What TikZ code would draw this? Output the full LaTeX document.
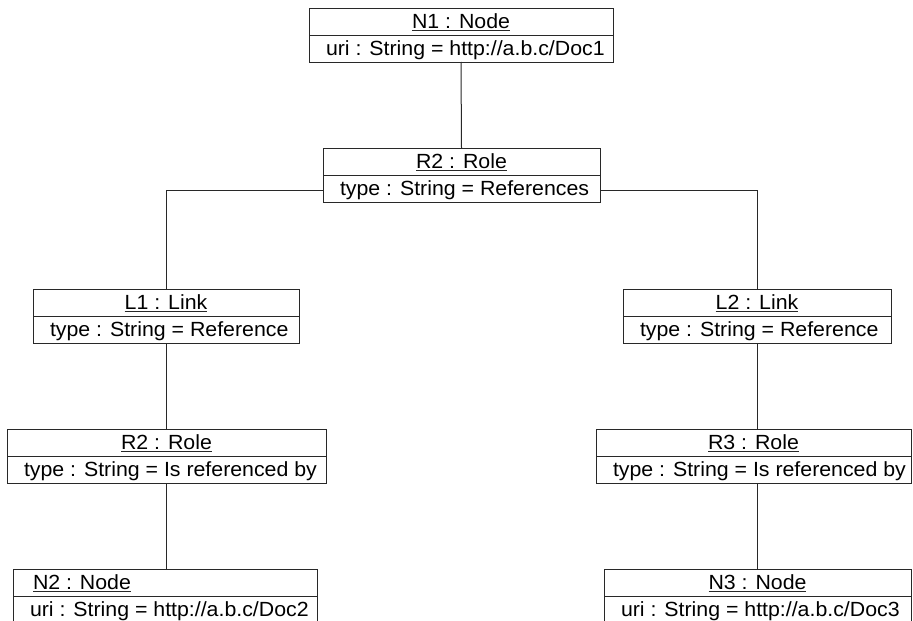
\documentclass[tikz,border=0pt]{standalone}
\usepackage{fontspec}
\setmainfont{Liberation Sans}[FakeStretch=1.04]
\usetikzlibrary{calc}

\definecolor{linecol}{RGB}{40,40,40}
\newcommand{\objfont}{\fontsize{20.5}{24}\selectfont}
% underlined object name with a rule of fixed thickness
\newcommand{\objname}[1]{\leavevmode\setbox0=\hbox{#1}\rlap{\color{linecol}\rule[-2.6pt]{\wd0}{1.1pt}}\box0}

\tikzset{
  objframe/.style={draw=linecol, line width=1pt, fill=white, inner sep=0pt, outer sep=0pt, minimum height=54pt},
  objtext/.style={inner sep=0pt, outer sep=0pt, anchor=base west, font=\objfont, text=black},
  link/.style={draw=linecol, line width=1pt},
}

% object box: id, left, right, top, name, attribute
\newcommand{\umlobject}[6]{%
  \node[objframe, anchor=north west, minimum width={#3-#2}] (#1) at (#2,#4) {};
  \draw[link] ($(#1.north west)+(0,27)$) -- ($(#1.north east)+(0,27)$);
  \node[objtext, anchor=base] (#1-name) at ($(#1.north)+(0,20)$) {\objname{#5}};
  \node[objtext] (#1-attr) at ($(#1.north west)+(17,47)$) {#6};
}
% same, with the name set flush left
\newcommand{\umlobjectleft}[6]{%
  \node[objframe, anchor=north west, minimum width={#3-#2}] (#1) at (#2,#4) {};
  \draw[link] ($(#1.north west)+(0,27)$) -- ($(#1.north east)+(0,27)$);
  \node[objtext] (#1-name) at ($(#1.north west)+(20,20)$) {\objname{#5}};
  \node[objtext] (#1-attr) at ($(#1.north west)+(17,47)$) {#6};
}

\begin{document}
\begin{tikzpicture}[x=1pt, y=-1pt]
  \fill[white] (0,0) rectangle (913,621);
  \useasboundingbox (0,0) rectangle (913,621);

  \umlobject{N1}{309}{613}{8}{N1 : Node}{uri : String = http://a.b.c/Doc1}
  \umlobject{R2}{323}{600}{148}{R2 : Role}{type : String = References}
  \umlobject{L1}{33}{299}{289}{L1 : Link}{type : String = Reference}
  \umlobject{L2}{623}{891}{289}{L2 : Link}{type : String = Reference}
  \umlobject{R2b}{7}{326}{429}{R2 : Role}{type : String = Is referenced by}
  \umlobject{R3}{596}{911}{429}{R3 : Role}{type : String = Is referenced by}
  \umlobjectleft{N2}{13}{317}{569}{N2 : Node}{uri : String = http://a.b.c/Doc2}
  \umlobject{N3}{604}{911}{569}{N3 : Node}{uri : String = http://a.b.c/Doc3}

  \draw[link] (N1.south) -- (R2.north);
  \draw[link] ([yshift=-15pt]R2.west) -| (L1.north);
  \draw[link] ([yshift=-15pt]R2.east) -| (L2.north);
  \draw[link] (L1.south) -- (L1.south |- R2b.north);
  \draw[link] (L2.south) -- (L2.south |- R3.north);
  \draw[link] (L1.south |- R2b.south) -- (L1.south |- N2.north);
  \draw[link] (L2.south |- R3.south) -- (L2.south |- N3.north);
\end{tikzpicture}
\end{document}
